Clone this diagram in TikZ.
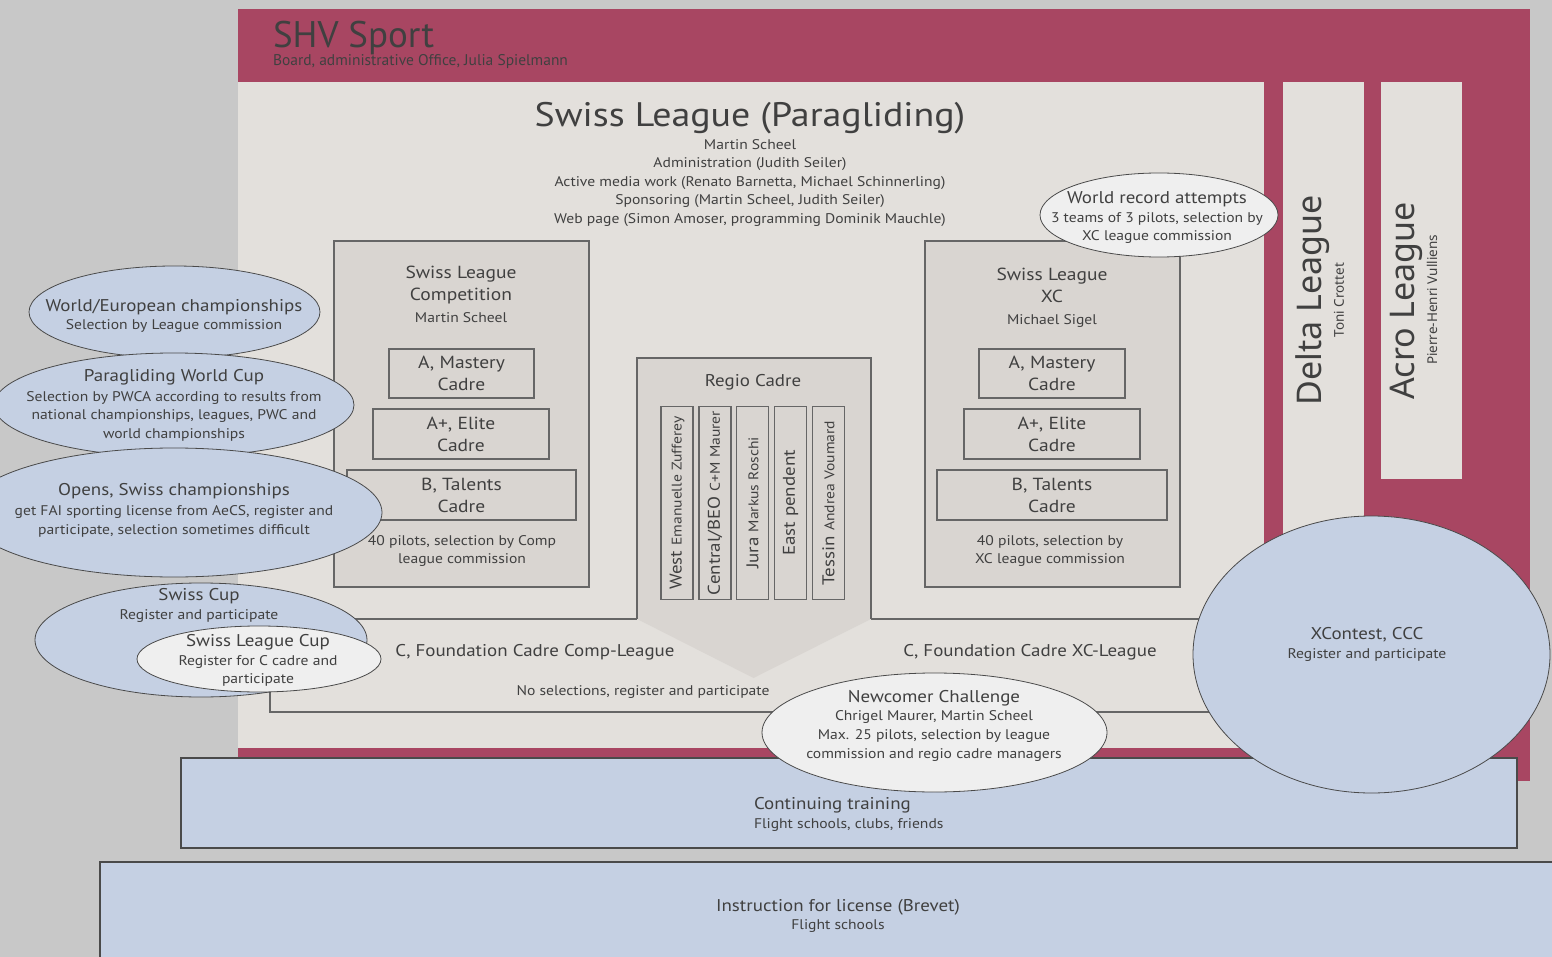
\documentclass[tikz,border=0pt]{standalone}
\usepackage{fontspec}
\setmainfont{PT Sans}[FakeStretch=1.115]
\newfontfamily\plainfont{PT Sans}
\newfontfamily\rob{Noto Sans}
\usetikzlibrary{shapes.geometric}
\definecolor{bgc}{HTML}{C8C8C8}
\definecolor{crim}{HTML}{A84662}
\definecolor{panel}{HTML}{E3E0DC}
\definecolor{cadre}{HTML}{D9D5D1}
\definecolor{blu}{HTML}{C5D0E3}
\definecolor{wht}{HTML}{EFEFEF}
\definecolor{txt}{HTML}{404040}
\definecolor{bord}{HTML}{666666}
\definecolor{ebord}{HTML}{4A4A4A}
\begin{document}
\begin{tikzpicture}[x=1pt,y=-1pt,
  every node/.style={inner sep=0pt,outer sep=0pt,text=txt},
  ttl/.style={font=\fontsize{17}{21}\selectfont, align=center},
  subtxt/.style={font=\fontsize{14}{18.5}\selectfont, align=center},
  cbox/.style={draw=bord, fill=cadre, line width=1.2pt, rectangle, align=center, font=\fontsize{17.5}{22}\selectfont},
  rbox/.style={draw=bord, fill=cadre, line width=1.2pt, rectangle, rotate=90, minimum width=193, minimum height=32},
  ell/.style={draw=ebord, line width=0.8pt, ellipse},
  panelbox/.style={fill=panel, rectangle}]
\useasboundingbox (0,0) rectangle (1552,957);
\fill[bgc] (0,0) rectangle (1552,957);
% SHV frame
\node[fill=crim, rectangle, minimum width=1292, minimum height=772] (shv) at (884,395) {};
\node[panelbox, minimum width=1026, minimum height=666] (inner) at (751,415) {};
\node[panelbox, minimum width=81, minimum height=666] (delta) at (1323.5,415) {};
\node[panelbox, minimum width=81, minimum height=397] (acro) at (1421.5,280.5) {};
\node[anchor=base west, font=\plainfont\fontsize{37}{40}\selectfont] (shvt) at (273,48) {SHV Sport};
\node[anchor=base west, font=\plainfont\fontsize{15.5}{18}\selectfont] (shvs) at (273,66) {Board, administrative Office, Julia Spielmann};
% Delta / Acro
\node[rotate=90, font=\rob\fontsize{34}{40}\selectfont] (deltat) at (1312.5,300) {Delta League};
\node[rotate=90, font=\rob\fontsize{13.5}{15}\selectfont] (deltas) at (1339,300) {Toni Crottet};
\node[rotate=90, font=\rob\fontsize{34}{40}\selectfont] (acrot) at (1406,301) {Acro League};
\node[rotate=90, font=\rob\fontsize{13.5}{15}\selectfont] (acros) at (1432,300) {Pierre-Henri Vulliens};
% Swiss League title
\node[anchor=base, font=\fontsize{34}{40}\selectfont] (slt) at (750,127) {Swiss League (Paragliding)};
\node[subtxt] (sls) at (750,183) {Martin Scheel\\Administration (Judith Seiler)\\Active media work (Renato Barnetta, Michael Schinnerling)\\Sponsoring (Martin Scheel, Judith Seiler)\\Web page (Simon Amoser, programming Dominik Mauchle)};
% C foundation outline
\draw[bord, line width=1.2pt] (637,619) -- (270,619) -- (270,712) -- (1230,712) -- (1230,619) -- (871,619);
\node[ttl] (cc) at (535,652) {C, Foundation Cadre Comp-League};
\node[ttl] (cx) at (1030,652) {C, Foundation Cadre XC-League};
\node[subtxt] (cn) at (643,692) {No selections, register and participate};
% Comp league
\node[cbox, minimum width=255, minimum height=346] (comp) at (461.5,414) {};
\node[cbox, draw=none, fill=none] (compt) at (461,285) {Swiss League\\Competition};
\node[subtxt] (comps) at (461,318) {Martin Scheel};
\node[cbox, minimum width=145, minimum height=49] (cam) at (461.5,373.5) {A, Mastery\\Cadre};
\node[cbox, minimum width=176, minimum height=50] (cae) at (461,434) {A+, Elite\\Cadre};
\node[cbox, minimum width=229, minimum height=50] (cbt) at (461.5,495) {B, Talents\\Cadre};
\node[subtxt, font=\fontsize{14}{18}\selectfont] (compn) at (462,551) {40 pilots, selection by Comp\\league commission};
% XC league
\node[cbox, minimum width=255, minimum height=346] (xc) at (1052.5,414) {};
\node[cbox, draw=none, fill=none] (xct) at (1052,285) {Swiss League\\XC};
\node[subtxt] (xcs) at (1052,321) {Michael Sigel};
\node[cbox, minimum width=146, minimum height=49] (xam) at (1052,373.5) {A, Mastery\\Cadre};
\node[cbox, minimum width=176, minimum height=50] (xae) at (1052,434) {A+, Elite\\Cadre};
\node[cbox, minimum width=230, minimum height=50] (xbt) at (1052,495) {B, Talents\\Cadre};
\node[subtxt, font=\fontsize{14}{18}\selectfont] (xcn) at (1050,551) {40 pilots, selection by\\XC league commission};
% Regio cadre
\coordinate (rtl) at (637,358);
\coordinate (rtr) at (871,358);
\coordinate (rbr) at (871,619);
\coordinate (rbl) at (637,619);
\coordinate (rtip) at (753.5,678);
\fill[cadre] (rtl) -- (rtr) -- (rbr) -- (rtip) -- (rbl) -- cycle;
\draw[bord, line width=1.2pt] (rbl) -- (rtl) -- (rtr) -- (rbr);
\node[ttl] (regt) at (753,382) {Regio Cadre};
\node[rbox] (rw) at (677,503) {\fontsize{17}{20}\selectfont West \fontsize{14}{17}\selectfont Emanuelle Zufferey};
\node[rbox] (rc) at (715,503) {\fontsize{17}{20}\selectfont Central/BEO \fontsize{14}{17}\selectfont C+M Maurer};
\node[rbox] (rj) at (752.5,503) {\fontsize{17}{20}\selectfont Jura \fontsize{14}{17}\selectfont Markus Roschi};
\node[rbox] (re) at (790.5,503) {\fontsize{17}{20}\selectfont East pendent};
\node[rbox] (rt) at (828.5,503) {\fontsize{17}{20}\selectfont Tessin \fontsize{14}{17}\selectfont Andrea Voumard};
% World record
\node[ell, fill=wht, minimum width=238, minimum height=84] (wr) at (1159,215) {};
\node[ttl] (wrt) at (1157,199) {World record attempts};
\node[subtxt, font=\fontsize{14}{18}\selectfont] (wrs) at (1157,228) {3 teams of 3 pilots, selection by\\XC league commission};
% bottom boxes
\node[draw=ebord, fill=blu, line width=1.2pt, rectangle, minimum width=1336, minimum height=90] (cont) at (849,803) {};
\node[ttl, anchor=west] (contt) at (754,805) {Continuing training};
\node[subtxt, anchor=west] (conts) at (754,825) {Flight schools, clubs, friends};
\node[draw=ebord, fill=blu, line width=1.2pt, rectangle, minimum width=1470, minimum height=110] (inst) at (835,917) {};
\node[ttl] (instt) at (838,907) {Instruction for license (Brevet)};
\node[subtxt] (insts) at (838,926) {Flight schools};
% left ellipses
\node[ell, fill=blu, minimum width=291, minimum height=92] (we) at (174.5,312) {};
\node[ttl] (wet) at (174,307) {World/European championships};
\node[subtxt] (wes) at (174,326) {Selection by League commission};
\node[ell, fill=blu, minimum width=360, minimum height=104] (pwc) at (174,405) {};
\node[ttl] (pwct) at (174,377) {Paragliding World Cup};
\node[subtxt] (pwcs) at (174,416) {Selection by PWCA according to results from\\national championships, leagues, PWC and\\world championships};
\node[ell, fill=blu, minimum width=416, minimum height=129] (op) at (174,512.5) {};
\node[ttl] (opt) at (174,491) {Opens, Swiss championships};
\node[subtxt, font=\fontsize{14}{19}\selectfont] (ops) at (174,521) {get FAI sporting license from AeCS, register and\\participate, selection sometimes difficult};
\node[ell, fill=blu, minimum width=332, minimum height=114] (sc) at (201,640) {};
\node[ttl] (sct) at (199,596) {Swiss Cup};
\node[subtxt] (scs) at (199,616) {Register and participate};
\node[ell, fill=wht, minimum width=244, minimum height=66] (slc) at (259,659) {};
\node[ttl] (slct) at (258,642) {Swiss League Cup};
\node[subtxt, font=\fontsize{14}{18}\selectfont] (slcs) at (258,671) {Register for C cadre and\\participate};
% Newcomer
\node[ell, fill=wht, minimum width=345, minimum height=119] (nc) at (934.5,732.5) {};
\node[ttl] (nct) at (934,698) {Newcomer Challenge};
\node[subtxt, font=\fontsize{14}{19}\selectfont] (ncs) at (934,736) {Chrigel Maurer, Martin Scheel\\Max. 25 pilots, selection by league\\commission and regio cadre managers};
% XContest
\node[ell, fill=blu, minimum width=357, minimum height=277] (xcc) at (1371.5,654.5) {};
\node[ttl] (xcct) at (1367,635) {XContest, CCC};
\node[subtxt] (xccs) at (1367,655) {Register and participate};
\end{tikzpicture}
\end{document}
